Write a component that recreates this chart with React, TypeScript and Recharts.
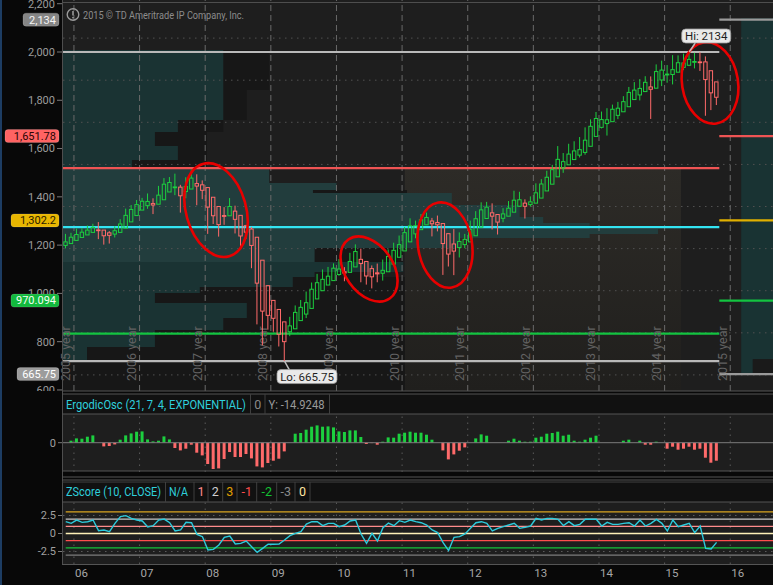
import React from "react";
import {
  ComposedChart,
  Bar,
  Line,
  XAxis,
  YAxis,
  ReferenceLine,
  ReferenceArea,
  ReferenceDot,
  Cell,
} from "recharts";

const FONT = "Roboto, 'Open Sans', 'DejaVu Sans', sans-serif";
const CHART_W = 774;
const AXIS_W = 63;

const GREEN = "#1ccf3f";
const RED = "#ff6a6a";
const BG = "#1e1e1e";

// ---------- categories: monthly slots, first slot = Nov 2005 ----------
const firstYear = 2005;
const firstMonth = 10; // November (0-based)
const slotCount = 130;
const monthLabels = Array.from({ length: slotCount }, (_, i) => {
  const k = firstMonth + i;
  const y = firstYear + Math.floor(k / 12);
  const mm = (k % 12) + 1;
  return `${y}-${mm < 10 ? "0" + mm : mm}`;
});

// year boundaries (slot index where January starts)
const yearSlots = [2, 14, 26, 38, 50, 62, 74, 86, 98, 110, 122];
const yearShort = ["06", "07", "08", "09", "10", "11", "12", "13", "14", "15", "16"];
const yearLong = ["2005", "2006", "2007", "2008", "2009", "2010", "2011", "2012", "2013", "2014", "2015"];

// ---------- Heikin-Ashi monthly candles (Nov 2005 .. Oct 2015) ----------
const haOpen = [1215,1224,1239,1253,1265,1277,1289,1288,1275,1269,
 1277,1297,1327,1357,1383,1404,1414,1411,1432,1469,
 1492,1492,1471,1483,1509,1503,1490,1444,1400,1357,
 1356,1378,1358,1309,1293,1254,1145,1024,954,911,
 852,805,819,858,889,916,961,1000,1027,1048,
 1077,1090,1087,1113,1149,1139,1105,1085,1083,1090,
 1126,1159,1189,1232,1270,1290,1313,1331,1324,1319,
 1271,1222,1205,1219,1232,1261,1302,1343,1370,1362,
 1344,1354,1373,1401,1416,1409,1416,1440,1474,1506,
 1541,1583,1598,1623,1644,1657,1686,1733,1776,1794,
 1803,1833,1850,1874,1908,1930,1946,1968,1962,2001,
 2025,2027,2038,2061,2071,2085,2087,2087,2045,1992];
const haHigh = [1270,1275,1295,1297,1310,1318,1326,1288,1283,1306,
 1340,1390,1407,1431,1441,1462,1439,1498,1535,1540,
 1556,1503,1539,1576,1553,1524,1490,1444,1400,1397,
 1440,1404,1358,1313,1303,1254,1145,1024,954,911,
 852,876,930,956,996,1039,1080,1101,1113,1130,
 1150,1112,1180,1220,1200,1139,1120,1129,1148,1196,
 1228,1262,1303,1344,1333,1364,1371,1346,1357,1319,
 1271,1293,1277,1270,1333,1378,1420,1422,1415,1363,
 1392,1426,1475,1470,1434,1448,1510,1530,1570,1598,
 1687,1654,1698,1710,1730,1776,1814,1849,1851,1867,
 1884,1897,1924,1968,1991,2005,2019,2018,2075,2093,
 2072,2119,2118,2126,2134,2130,2133,2113,2045,1992];
const haLow = [1201,1224,1239,1253,1265,1277,1245,1219,1224,1253,
 1277,1297,1327,1357,1383,1389,1364,1411,1432,1469,
 1454,1371,1439,1483,1406,1435,1270,1317,1257,1313,
 1356,1272,1200,1247,1107,840,741,815,805,735,
 665.75,784,819,858,870,916,961,1000,1027,1048,
 1071,1045,1087,1113,1040,1029,1011,1040,1048,1090,
 1126,1159,1189,1232,1249,1290,1312,1258,1282,1075,
 1115,1074,1158,1202,1232,1261,1302,1343,1291,1267,
 1325,1354,1373,1401,1343,1399,1416,1440,1474,1506,
 1541,1560,1598,1623,1633,1646,1686,1733,1771,1737,
 1803,1815,1850,1874,1908,1904,1946,1816,1962,1972,
 1988,1980,2038,2048,2067,2056,2044,1831,1858,1882];
const haClose = [1232,1254,1267,1278,1288,1301,1288,1261,1263,1285,
 1317,1358,1386,1409,1425,1424,1407,1454,1506,1514,
 1493,1451,1495,1535,1497,1477,1397,1356,1314,1355,
 1400,1339,1260,1278,1215,1036,903,883,869,793,
 758,833,897,921,943,1007,1038,1054,1069,1107,
 1103,1084,1139,1186,1129,1070,1066,1080,1097,1163,
 1192,1219,1276,1308,1309,1337,1348,1318,1313,1224,
 1174,1188,1234,1244,1290,1342,1384,1397,1354,1326,
 1365,1392,1430,1432,1401,1422,1465,1507,1539,1575,
 1624,1613,1649,1664,1670,1715,1781,1818,1813,1812,
 1862,1867,1898,1942,1953,1961,1990,1957,2041,2048,
 2029,2050,2083,2082,2099,2089,2086,2003,1940,1919];

// ---------- ErgodicOsc histogram ----------
const ergodic = [null, 2, 4.3, 4, 6, 7.3, 0, -3.7, -3.3, -1.7,
 3, 7.3, 9.3, 11, 11.3, 3.3, 1.3, 2, 6.3, 3.3,
 -5.3, -7.7, -6, -2, -10, -12.7, -21.3, -26.3, -25.7, -16.3,
 -9.3, -14.3, -14.3, -11.3, -15.7, -23.7, -24.7, -20.3, -18, -16,
 -8.7, 0, 9, 9.7, 13, 16, 17.3, 16, 16.3, 15.3,
 11.3, 10.7, 12.3, 12.3, 5.7, -1.3, -0.4, -2, 1, 5.3,
 5, 9, 10, 11, 10, 10, 8, 3, 0, -7.7,
 -16.7, -11.7, -8, -4.7, 0, 4.3, 8.3, 7, 0, 0,
 0, 2, 4, 2, 1, 1, 5, 6, 9, 9.7,
 11, 7, 8, 2, 1, 3, 5, 7, 0, 0,
 0, 0, 2, 3, 0, 2, -2, -2, 1, 0,
 -6, -4, -7, -6, -4, -7, -6, -15, -20, -18];

// ---------- ZScore(10, CLOSE) ----------
const zscore = [1.64, 1.41, 1.87, 1.55, 1.64, 1.87, 0.39, 0.49, 0.25, 1.41,
 2.34, 2.48, 2.1, 1.87, 1.74, 0.9, 1.09, 1.87, 2.0, 1.5,
 0.35, 0.49, 1.55, 1.5, -0.12, -0.44, -2.29, -2.2, -1.6, -0.53,
 -0.35, -1.46, -1.37, -1.04, -1.83, -2.62, -2.06, -1.5, -1.5, -1.46,
 -0.9, -0.3, 0.02, 0.25, 1.32, 1.64, 1.64, 1.09, 1.41, 1.41,
 0.95, 1.18, 1.74, 1.87, -0.07, -1.37, 0.02, -1.04, 0.8, 1.45,
 1.09, 1.78, 1.55, 1.87, 1.64, 1.5, 1.18, 0.49, 0.12, -1.27,
 -2.38, -0.53, -0.44, -0.07, 0.72, 1.5, 1.64, 1.41, 0.35, 0.72,
 0.95, 1.18, 1.41, 0.72, 0.86, 1.04, 2.1, 1.87, 2.1, 2.1,
 1.97, 1.09, 1.64, 1.09, 1.27, 1.97, 1.97, 1.97, 1.04, 1.55,
 1.27, 1.27, 1.41, 1.5, 1.04, 1.87, 1.04, 1.41, 1.97, 1.41,
 0.35, 1.87, 0.95, 1.18, 1.41, 0.12, 1.04, -2.06, -2.15, -1.23];

// ---------- volume profile (price band, extent in slots) ----------
const profLow = [1953.5, 1811, 1754, 1687.5, 1621, 1583, 1511.7, 1478, 1464, 1407, 1350, 1321.7, 1293, 1269.4, 1250, 1203, 1136, 1089, 1065, 1017.6, 989, 941.6, 870.4, 813.6, 732.6, 671, 523.6];
const profHigh = [2143, 1953.5, 1811, 1754, 1687.5, 1621, 1583, 1511.7, 1478, 1464, 1407, 1350, 1321.7, 1293, 1269.4, 1250, 1203, 1136, 1089, 1065, 1017.6, 989, 941.6, 870.4, 813.6, 732.6, 671];
const profTealEnd = [29.3, 29.3, 21, 16.8, 21, 12.6, 37.7, 50, 45.7, 71.1, 83.5, 87.8, 96.3, 108.8, 96.3, 72.6, 46, 62.2, 46, 42, 25, 16.8, 33.6, 29.3, 16.8, 4.4, 0];
const profDarkEnd = [37.7, 33.6, 29.3, 26.3, 26.3, 26.3, 37.7, 50, 62.9, 71.1, 83.5, 87.8, 96.3, 108.8, 96.3, 72.6, 62.2, 62.2, 55, 62.5, 62.5, 62.5, 62.5, 62.5, 62.5, 62.5, 62.5];
const profValueArea = [0, 0, 0, 0, 0, 0, 1, 1, 1, 1, 1, 1, 1, 1, 1, 1, 1, 0, 0, 0, 0, 0, 0, 0, 0, 0, 0];

// ---------- horizontal levels ----------
const leftLevels = [2134, 1582, 1302.2, 796, 665.75];
const leftLevelColors = ["#b9b9b9", "#ef5454", "#33e4f2", "#13c441", "#b9b9b9"];
const rightLevels = [2134, 1651.78, 1302.2, 970.094, 665.75];
const rightLevelColors = ["#9a9a9a", "#ef5454", "#e0b000", "#13c441", "#9a9a9a"];
const tagLabels = ["2,134", "1,651.78", "1,302.2", "970.094", "665.75"];
const tagBg = ["#858585", "#ff6363", "#e8b600", "#12b93d", "#9c9c9c"];
const tagFg = ["#f4f4f4", "#2a0505", "#2a2000", "#f4fff4", "#ffffff"];
const priceTicks = [600, 800, 1000, 1200, 1400, 1600, 1800, 2000, 2200];
const gridPrices = [600, 800, 1000, 1200, 1400, 1600, 1800, 2000, 2200];

// ---------- annotations ----------
const hiSlot = 114.5, hiValue = 2134;
const loSlot = 40.5, loValue = 665.75;
const circleSlot = [27.98, 55.96, 69.85, 118.3];
const circlePrice = [1383, 1103, 1217, 1987];
const circleStyle = [
  { rx: 30, ry: 48, rot: -16 },
  { rx: 24, ry: 36, rot: -35 },
  { rx: 27, ry: 43, rot: -9 },
  { rx: 28, ry: 41, rot: -9 },
];

// ---------- ZScore levels ----------
const zLevels = [3, 2, 1, 0, -1, -2, -3];
const zLevelColors = ["#d9a521", "#c6c6c6", "#ff8c8c", "#fff1b8", "#ff4d4d", "#16c23a", "#7c7c7c"];

// axis domains
const CANDLE_DOMAIN: [number, number] = [523.6, 2381];
const AXIS_DOMAIN: [number, number] = [595.7, 2215.4];

const rows = monthLabels.map((m, i) => {
  const has = i < haOpen.length;
  return {
    m,
    s: i + 0.5,
    range: has ? [haLow[i], haHigh[i]] : null,
    o: has ? haOpen[i] : null,
    h: has ? haHigh[i] : null,
    l: has ? haLow[i] : null,
    c: has ? haClose[i] : null,
    erg: i < ergodic.length ? ergodic[i] : null,
    z: i < zscore.length ? zscore[i] : null,
  };
});

const Candle = (props: any) => {
  const { x, y, width, height, payload } = props;
  if (!payload || payload.o == null || x == null) return null;
  const { o, h, l, c } = payload;
  const yTop = Math.min(y, y + height);
  const yBot = Math.max(y, y + height);
  const span = h - l || 1;
  const py = (v: number) => yTop + ((h - v) / span) * (yBot - yTop);
  const up = c >= o;
  const color = up ? GREEN : RED;
  const cx = x + width / 2;
  const bt = py(Math.max(o, c));
  const bb = py(Math.min(o, c));
  const bw = 3.4;
  return (
    <g>
      <line x1={cx} x2={cx} y1={py(h)} y2={bt} stroke={color} strokeWidth={1} />
      <line x1={cx} x2={cx} y1={bb} y2={py(l)} stroke={color} strokeWidth={1} />
      <rect x={cx - bw / 2} y={bt} width={bw} height={Math.max(bb - bt, 0.8)} fill="none" stroke={color} strokeWidth={1} />
    </g>
  );
};

const PriceTick = (props: any) => {
  const { x, y, payload } = props;
  const v = payload.value;
  const ti = tagLabels.length ? rightLevels.indexOf(v) : -1;
  if (ti >= 0) {
    const label = tagLabels[ti];
    const w = label.length * 6.0 + 6;
    return (
      <g>
        <rect x={x + 4 - w} y={y - 6.5} width={w} height={13} rx={3} fill={tagBg[ti]} stroke="rgba(255,255,255,0.25)" strokeWidth={0.6} />
        <text x={x + 1} y={y} dy="0.35em" textAnchor="end" fill={tagFg[ti]} fontSize={11} fontFamily={FONT}>{label}</text>
      </g>
    );
  }
  return (
    <g>
      <text x={x} y={y} dy="0.35em" textAnchor="end" fill="#9c9c9c" fontSize={11} fontFamily={FONT}>{v.toLocaleString("en-US")}</text>
      <line x1={x + 2} x2={x + 8} y1={y} y2={y} stroke="#7a7a7a" strokeWidth={1} />
    </g>
  );
};

const XTick = (props: any) => {
  const { x, y, payload } = props;
  const idx = yearSlots.indexOf(payload.value);
  if (idx < 0) return null;
  return (
    <text x={x + 1} y={y + 13.3} textAnchor="start" fill="#a6a6a6" fontSize={11.5} fontFamily={FONT}>{yearShort[idx]}</text>
  );
};

const PriceBack = () => (
  <ComposedChart width={CHART_W} height={391} data={rows} margin={{ top: 0, right: 0, bottom: 0, left: AXIS_W }}>
    <defs>
      <linearGradient id="brownGrad" x1="0" y1="0" x2="0" y2="1">
        <stop offset="0%" stopColor="#2d2b27" />
        <stop offset="100%" stopColor="#201f1d" />
      </linearGradient>
    </defs>
    <XAxis xAxisId="px" type="number" dataKey="s" domain={[0, slotCount]} allowDataOverflow hide />
    <YAxis yAxisId="c" type="number" domain={CANDLE_DOMAIN} allowDataOverflow hide />
    <YAxis yAxisId="axis" type="number" domain={AXIS_DOMAIN} allowDataOverflow hide />
    <ReferenceArea xAxisId="px" yAxisId="c" x1={62.5} x2={113} y1={523.6} y2={1583} fill="url(#brownGrad)" fillOpacity={1} stroke="none" ifOverflow="visible" />
    {profLow.map((lo, i) =>
      profDarkEnd[i] > profTealEnd[i] ? (
        <ReferenceArea key={"d" + i} xAxisId="px" yAxisId="c" x1={profTealEnd[i]} x2={profDarkEnd[i]} y1={lo} y2={profHigh[i]} fill="#171717" fillOpacity={1} stroke="none" ifOverflow="visible" />
      ) : null
    )}
    {profLow.map((lo, i) =>
      profTealEnd[i] > 0 ? (
        <ReferenceArea key={"t" + i} xAxisId="px" yAxisId="c" x1={0} x2={profTealEnd[i]} y1={lo} y2={profHigh[i]} fill={profValueArea[i] ? "#223d3d" : "#1a3333"} fillOpacity={1} stroke="none" ifOverflow="visible" />
      ) : null
    )}
    <ReferenceArea xAxisId="px" yAxisId="axis" x1={124} x2={slotCount} y1={665.75} y2={2140} fill="#193333" fillOpacity={1} stroke="none" ifOverflow="visible" />
    <ReferenceArea xAxisId="px" yAxisId="axis" x1={126.1} x2={slotCount} y1={665.75} y2={728} fill="#1a1a1a" fillOpacity={1} stroke="none" ifOverflow="visible" />
    {gridPrices.map((p) => (
      <ReferenceLine key={"g" + p} xAxisId="px" yAxisId="c" y={p} stroke="#515151" strokeDasharray="1.5 4.5" strokeWidth={1} ifOverflow="visible" />
    ))}
    {yearSlots.map((s) => (
      <ReferenceLine key={"v" + s} xAxisId="px" yAxisId="c" x={s} stroke="#6a6a6a" strokeDasharray="6 4" strokeWidth={1} ifOverflow="visible" />
    ))}
    {yearSlots.map((s, i) => (
      <ReferenceDot
        key={"yl" + s}
        xAxisId="px"
        yAxisId="c"
        x={s}
        y={CANDLE_DOMAIN[0]}
        r={0}
        ifOverflow="visible"
        shape={(p: any) => {
          const tx = p.cx - 8;
          const ty = p.cy - 10;
          return (
            <text x={tx} y={ty} transform={`rotate(-90 ${tx} ${ty})`} fill="#626262" fontSize={12.5} fontFamily={FONT} dominantBaseline="central">
              {`${yearLong[i]} year`}
            </text>
          );
        }}
      />
    ))}
    {leftLevels.map((v, i) => (
      <ReferenceLine key={"ll" + i} xAxisId="px" yAxisId="c" segment={[{ x: 0, y: v }, { x: 120, y: v }]} stroke={leftLevelColors[i]} strokeWidth={2.2} ifOverflow="visible" />
    ))}
    {rightLevels.map((v, i) => (
      <ReferenceLine key={"rl" + i} xAxisId="px" yAxisId="axis" segment={[{ x: 120, y: v }, { x: slotCount, y: v }]} stroke={rightLevelColors[i]} strokeWidth={2.2} ifOverflow="visible" />
    ))}
  </ComposedChart>
);

const PriceFront = () => (
  <ComposedChart width={CHART_W} height={391} data={rows} margin={{ top: 0, right: 0, bottom: 0, left: 0 }}>
    <XAxis xAxisId="cat" dataKey="m" type="category" scale="band" hide />
    <XAxis xAxisId="px" type="number" dataKey="s" domain={[0, slotCount]} allowDataOverflow hide />
    <YAxis
      yAxisId="axis"
      orientation="left"
      width={AXIS_W}
      type="number"
      domain={AXIS_DOMAIN}
      allowDataOverflow
      ticks={[...priceTicks, ...rightLevels]}
      interval={0}
      tick={<PriceTick />}
      tickLine={false}
      axisLine={false}
      tickSize={6}
      tickMargin={2}
    />
    <YAxis yAxisId="c" type="number" domain={CANDLE_DOMAIN} allowDataOverflow hide />
    <Bar xAxisId="cat" yAxisId="c" dataKey="range" barSize={5} isAnimationActive={false} shape={(p: any) => <Candle {...p} />} />
    {circleSlot.map((s, i) => (
      <ReferenceDot
        key={"c" + i}
        xAxisId="px"
        yAxisId="c"
        x={s}
        y={circlePrice[i]}
        r={0}
        ifOverflow="visible"
        shape={(p: any) => (
          <ellipse cx={p.cx} cy={p.cy} rx={circleStyle[i].rx} ry={circleStyle[i].ry} transform={`rotate(${circleStyle[i].rot} ${p.cx} ${p.cy})`} fill="none" stroke="#e80000" strokeWidth={2.6} />
        )}
      />
    ))}
    <ReferenceDot
      xAxisId="px"
      yAxisId="c"
      x={hiSlot}
      y={hiValue}
      r={0}
      ifOverflow="visible"
      shape={(p: any) => (
        <g>
          <line x1={p.cx} y1={p.cy} x2={p.cx + 6} y2={p.cy - 9} stroke="#bdbdbd" strokeWidth={1.5} />
          <rect x={p.cx - 7.5} y={p.cy - 23} width={49} height={14} rx={4} fill="#e9e9e9" stroke="#9a9a9a" strokeWidth={0.8} />
          <text x={p.cx + 17} y={p.cy - 12.3} textAnchor="middle" fill="#1e1e1e" fontSize={11.5} fontFamily={FONT}>{`Hi: ${hiValue}`}</text>
        </g>
      )}
    />
    <ReferenceDot
      xAxisId="px"
      yAxisId="c"
      x={loSlot}
      y={loValue}
      r={0}
      ifOverflow="visible"
      shape={(p: any) => (
        <g>
          <line x1={p.cx} y1={p.cy} x2={p.cx + 5} y2={p.cy + 9} stroke="#bdbdbd" strokeWidth={1.5} />
          <rect x={p.cx - 7.5} y={p.cy + 8.5} width={60} height={14} rx={4} fill="#e9e9e9" stroke="#9a9a9a" strokeWidth={0.8} />
          <text x={p.cx + 22.5} y={p.cy + 19.5} textAnchor="middle" fill="#1e1e1e" fontSize={11.5} fontFamily={FONT}>{`Lo: ${loValue}`}</text>
        </g>
      )}
    />
  </ComposedChart>
);

const ErgodicChart = () => (
  <ComposedChart width={CHART_W} height={58} data={rows} margin={{ top: 0, right: 0, bottom: 0, left: 0 }}>
    <XAxis xAxisId="cat" dataKey="m" type="category" scale="band" hide />
    <XAxis xAxisId="px" type="number" dataKey="s" domain={[0, slotCount]} allowDataOverflow hide />
    <YAxis
      yAxisId="e"
      width={AXIS_W}
      type="number"
      domain={[-29.3, 28.7]}
      allowDataOverflow
      ticks={[0]}
      tick={{ fill: "#a0a0a0", fontSize: 11, fontFamily: FONT }}
      tickLine={{ stroke: "#7a7a7a" }}
      axisLine={false}
      tickSize={5}
    />
    {yearSlots.map((s) => (
      <ReferenceLine key={"ev" + s} xAxisId="px" yAxisId="e" x={s} stroke="#5a5a5a" strokeDasharray="1.5 4.5" ifOverflow="visible" />
    ))}
    <ReferenceLine xAxisId="px" yAxisId="e" y={0} stroke="#7c7c7c" strokeWidth={1} />
    <Bar xAxisId="cat" yAxisId="e" dataKey="erg" barSize={3} isAnimationActive={false}>
      {rows.map((r, i) => (
        <Cell key={i} fill={r.erg != null && r.erg < 0 ? RED : GREEN} />
      ))}
    </Bar>
  </ComposedChart>
);

const ZScoreChart = () => (
  <ComposedChart width={CHART_W} height={83} data={rows} margin={{ top: 0, right: 0, bottom: 0, left: 0 }}>
    <XAxis
      xAxisId="px"
      type="number"
      dataKey="s"
      domain={[0, slotCount]}
      allowDataOverflow
      ticks={yearSlots}
      interval={0}
      tick={<XTick />}
      tickLine={false}
      axisLine={false}
      height={21}
      tickSize={0}
      tickMargin={0}
    />
    <YAxis
      yAxisId="z"
      width={AXIS_W}
      type="number"
      domain={[-4.236, 4.375]}
      allowDataOverflow
      ticks={[2.5, 0, -2.5]}
      interval={0}
      tick={{ fill: "#a0a0a0", fontSize: 11, fontFamily: FONT }}
      tickLine={{ stroke: "#7a7a7a" }}
      axisLine={false}
      tickSize={5}
    />
    {yearSlots.map((s) => (
      <ReferenceLine key={"zv" + s} xAxisId="px" yAxisId="z" x={s} stroke="#5a5a5a" strokeDasharray="1.5 4.5" ifOverflow="visible" />
    ))}
    <ReferenceLine xAxisId="px" yAxisId="z" y={2.5} stroke="#5a5a5a" strokeDasharray="1.5 4.5" />
    <ReferenceLine xAxisId="px" yAxisId="z" y={-2.5} stroke="#5a5a5a" strokeDasharray="1.5 4.5" />
    {zLevels.map((v, i) => (
      <ReferenceLine key={"zl" + v} xAxisId="px" yAxisId="z" segment={[{ x: 0.5, y: v }, { x: slotCount, y: v }]} stroke={zLevelColors[i]} strokeWidth={1.3} ifOverflow="visible" />
    ))}
    <Line xAxisId="px" yAxisId="z" dataKey="z" type="linear" stroke="#2ccbdc" strokeWidth={1.4} dot={false} isAnimationActive={false} />
  </ComposedChart>
);

const ergHeader = [
  { text: "ErgodicOsc (21, 7, 4, EXPONENTIAL)", color: "#2fcfdc", x0: 62.5, x1: 250.5, len: 180 },
  { text: "0", color: "#8a8a8a", x0: 250.5, x1: 265, len: 0 },
  { text: "Y: -14.9248", color: "#9a9a9a", x0: 265, x1: 329.5, len: 56 },
];
const zHeader = [
  { text: "ZScore (10, CLOSE)", color: "#2fcfdc", x0: 62.5, x1: 165.5, len: 95 },
  { text: "N/A", color: "#2fcfdc", x0: 165.5, x1: 194, len: 19 },
  { text: "1", color: "#ff8a8a", x0: 194, x1: 208, len: 0 },
  { text: "2", color: "#d0d0d0", x0: 208, x1: 222.7, len: 0 },
  { text: "3", color: "#e0a000", x0: 222.7, x1: 237, len: 0 },
  { text: "-1", color: "#ff4d4d", x0: 237, x1: 256.7, len: 0 },
  { text: "-2", color: "#12c233", x0: 256.7, x1: 276.7, len: 0 },
  { text: "-3", color: "#8a8a8a", x0: 276.7, x1: 295, len: 0 },
  { text: "0", color: "#ffe6a0", x0: 295, x1: 310, len: 0 },
];

const HeaderRow = ({ items, top, bottom, baseline }: any) => (
  <g>
    {items.map((it: any, i: number) => (
      <g key={i}>
        <line x1={it.x1} x2={it.x1} y1={top} y2={bottom} stroke="#3f3f3f" strokeWidth={1} />
        {it.len ? (
          <text x={it.x0 + 3.5} y={baseline} fill={it.color} fontSize={12.5} fontFamily={FONT} textLength={it.len} lengthAdjust="spacingAndGlyphs">{it.text}</text>
        ) : (
          <text x={(it.x0 + it.x1) / 2} y={baseline} textAnchor="middle" fill={it.color} fontSize={12.5} fontFamily={FONT}>{it.text}</text>
        )}
      </g>
    ))}
  </g>
);

export default function App() {
  const lineColor = "#4e4e4e";
  return (
    <div style={{ position: "fixed", left: 0, top: 0, width: 773, height: 585, overflow: "hidden", background: "#080808", fontFamily: FONT }}>
      <svg width={773} height={585} style={{ position: "absolute", left: 0, top: 0 }}>
        <rect x={0} y={0} width={773} height={585} fill="#080808" />
        <rect x={0} y={0} width={2} height={585} fill="#1d3d63" />
        <rect x={63} y={0} width={711} height={391} fill={BG} />
        <rect x={63} y={394} width={711} height={20} fill="#111111" />
        <rect x={63} y={414} width={711} height={57} fill={BG} />
        <rect x={63} y={482} width={711} height={20} fill="#111111" />
        <rect x={63} y={502} width={711} height={62} fill={BG} />
      </svg>
      <div style={{ position: "absolute", left: 0, top: 0 }}>
        <PriceBack />
      </div>
      <div style={{ position: "absolute", left: 0, top: 0 }}>
        <PriceFront />
      </div>
      <div style={{ position: "absolute", left: 0, top: 413.5 }}>
        <ErgodicChart />
      </div>
      <div style={{ position: "absolute", left: 0, top: 502 }}>
        <ZScoreChart />
      </div>
      <svg width={773} height={585} style={{ position: "absolute", left: 0, top: 0, pointerEvents: "none" }}>
        <line x1={62.5} x2={62.5} y1={0} y2={564.5} stroke={lineColor} />
        <line x1={62} x2={773} y1={2.5} y2={2.5} stroke={lineColor} />
        <line x1={62} x2={773} y1={391} y2={391} stroke="#555" />
        <line x1={62} x2={773} y1={394} y2={394} stroke="#555" />
        <line x1={62} x2={773} y1={414} y2={414} stroke="#555" />
        <line x1={62} x2={773} y1={471} y2={471} stroke="#555" />
        <line x1={62} x2={773} y1={477} y2={477} stroke="#555" />
        <line x1={62} x2={773} y1={480} y2={480} stroke="#555" />
        <line x1={62} x2={773} y1={482} y2={482} stroke="#444" />
        <line x1={62} x2={773} y1={502} y2={502} stroke="#555" />
        <line x1={62} x2={773} y1={564.5} y2={564.5} stroke="#555" />
        <HeaderRow items={ergHeader} top={394} bottom={414} baseline={408.5} />
        <HeaderRow items={zHeader} top={482} bottom={502} baseline={496} />
        <circle cx={73} cy={14.5} r={5.8} fill="none" stroke="#9a9a9a" strokeWidth={1.4} />
        <line x1={73} x2={73} y1={11} y2={15.5} stroke="#9a9a9a" strokeWidth={1.6} />
        <circle cx={73} cy={17.6} r={0.9} fill="#9a9a9a" />
        <text x={83} y={19} fill="#8c8c8c" fontSize={11.5} fontFamily={FONT} textLength={161} lengthAdjust="spacingAndGlyphs">
          2015 © TD Ameritrade IP Company, Inc.
        </text>
      </svg>
    </div>
  );
}
